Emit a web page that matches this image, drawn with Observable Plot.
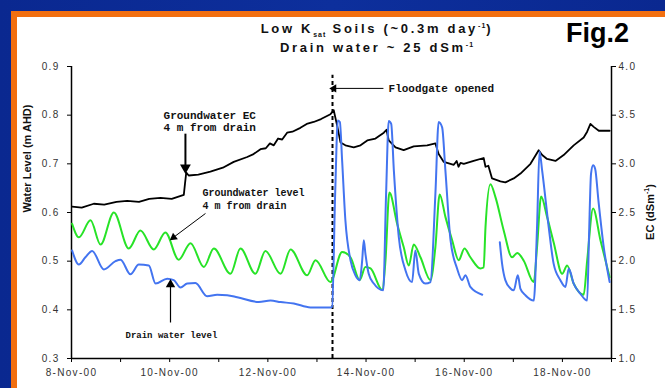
<!DOCTYPE html>
<html>
<head>
<meta charset="utf-8">
<script src="https://cdn.jsdelivr.net/npm/d3@7"></script>
<script src="https://cdn.jsdelivr.net/npm/@observablehq/plot@0.6"></script>
<style>
  html, body { margin: 0; padding: 0; }
  body {
    width: 665px; height: 388px; overflow: hidden; position: relative;
    background: linear-gradient(90deg, #0a2890 0%, #0d2f9c 50%, #0a2890 100%);
    font-family: "Liberation Sans", Arial, sans-serif;
  }
  #panel {
    position: absolute; left: 11px; top: 11px; right: 0; bottom: 0;
    background: #fff;
    border-left: 6px solid #f26f10; border-top: 6px solid #f26f10;
  }
  #chart { position: absolute; left: 0; top: 0; }
  .title {
    position: absolute; left: 127px; width: 500px; text-align: center;
    font-weight: bold; font-size: 13px; line-height: 13px; letter-spacing: 2.7px;
    color: #111; white-space: nowrap;
  }
  .title sub, .title sup { font-size: 7px; letter-spacing: 1px; line-height: 0; }
  #fig { position: absolute; left: 566px; top: 20px; font-weight: bold; font-size: 27px; line-height: 27px; color: #000; }
  #ecLabel {
    position: absolute; left: 650px; top: 212px; transform: translate(-50%, -50%) rotate(-90deg);
    font-weight: bold; font-size: 11px; white-space: nowrap; color: #111;
  }
  #ecLabel sup { font-size: 7px; line-height: 0; }
</style>
</head>
<body>
<div id="panel"></div>
<div id="chart"></div>
<div class="title" style="top:22px">Low K<sub>sat</sub> Soils (~0.3m day<sup>-1</sup>)</div>
<div class="title" style="top:41px">Drain water ~ 25 dSm<sup>-1</sup></div>
<div id="fig">Fig.2</div>
<div id="ecLabel">EC (dSm<sup>-1</sup>)</div>
<script>
// Hours since 8-Nov-00 00:00 and readings for each logger.

// Groundwater level 4 m from drain (m AHD)
const gwHours = [0.3, 3.6, 9.3, 14.2, 20.7, 28.0, 33.7, 40.2, 45.9, 52.4, 58.2, 64.7, 69.6, 77.7, 82.6, 89.9, 94.8, 102.2, 107.1, 115.2, 119.3, 126.6,
  132.3, 136.4, 140.9, 143.7, 146.2, 151.9, 153.5, 155.4, 159.2, 162.4, 164.9, 167.3, 170.6, 175.5, 177.9, 180.0, 182.8, 186.1, 189.3, 192.1, 195.0, 199.9, 201.5, 202.4, 204.8, 207.3, 211.3, 215.4, 217.9, 221.1, 226.0, 227.6, 229.6, 232.5, 235.7, 239.9, 242.3, 245.5, 250.4, 252.1, 255.0, 258.6, 263.1];
const gwLevel = [0.577, 0.549, 0.584, 0.534, 0.600, 0.526, 0.563, 0.524, 0.559, 0.503, 0.537, 0.488, 0.526, 0.474, 0.526, 0.474, 0.521, 0.474, 0.524, 0.471, 0.502, 0.457,
  0.519, 0.508, 0.461, 0.488, 0.485, 0.441, 0.501, 0.641, 0.577, 0.529, 0.491, 0.534, 0.508, 0.461, 0.529, 0.637, 0.591, 0.543, 0.502, 0.526, 0.508, 0.485, 0.487, 0.570, 0.658, 0.631, 0.563, 0.508, 0.517, 0.501, 0.457, 0.529, 0.633, 0.591, 0.539, 0.474, 0.491, 0.454, 0.431, 0.501, 0.608, 0.543, 0.467];

// Drain water level (m AHD); null marks a gap in the record
const drainHours = [0.3, 3.6, 6.8, 10.1, 15.8, 21.5, 24.0, 28.8, 32.9, 37.8, 41.1, 46.8, 50.0, 53.3, 56.6, 60.6, 66.3, 71.2, 76.1, 81.0, 91.6, 97.3, 102.2, 108.7, 116.8, 126.6,
  127.4, 128.9, 130.2, 131.2, 132.3, 133.9, 136.4, 138.8, 140.9, 142.1, 142.9, 143.7, 145.3, 147.8, 152.4, 153.8, 155.1, 156.3, 157.6, 160.0, 163.3, 166.5, 168.1, 169.8, 173.0, 175.5, 177.9, 179.5, 181.2, 182.8, 185.3, 188.5, 191.0, 192.6, 195.0, 200.8,
  205.0,
  209.4, 210.5, 212.1, 214.6, 216.2, 218.2, 219.5, 221.9, 226.0, 227.6, 228.8, 230.1, 233.3, 235.7, 239.0, 241.5, 243.1, 245.5, 248.8, 252.1, 253.0, 254.0, 255.0, 256.0, 257.6, 260.2, 263.1];
const drainLevel = [0.522, 0.493, 0.508, 0.521, 0.483, 0.500, 0.503, 0.473, 0.493, 0.491, 0.454, 0.464, 0.461, 0.446, 0.454, 0.455, 0.428, 0.431, 0.430, 0.426, 0.416, 0.419, 0.416, 0.413, 0.405, 0.405,
  0.406, 0.638, 0.789, 0.786, 0.707, 0.584, 0.502, 0.471, 0.461, 0.501, 0.543, 0.515, 0.474, 0.454, 0.440, 0.638, 0.788, 0.782, 0.686, 0.550, 0.481, 0.457, 0.522, 0.474, 0.454, 0.457, 0.638, 0.786, 0.775, 0.686, 0.543, 0.485, 0.461, 0.471, 0.447, 0.431,
  null,
  0.539, 0.495, 0.461, 0.444, 0.440, 0.471, 0.443, 0.430, 0.419, 0.570, 0.726, 0.686, 0.570, 0.495, 0.461, 0.447, 0.485, 0.454, 0.433, 0.419, 0.550, 0.680, 0.697, 0.690, 0.625, 0.529, 0.457];

// Groundwater EC 4 m from drain (dS/m)
const ecHours = [0.3, 5, 10.9, 16, 22, 27.2, 33, 38, 43.5, 49, 54.9, 55.5, 56.1, 57.3, 62, 67.9, 74, 79.3, 85.9, 89, 92.4, 95, 97, 98.9, 101, 103, 105.4, 108, 111.9, 115, 118.4, 122, 126.6, 128.2,
  129.9, 131.5, 133.9, 138.0, 141.3, 144.6, 148.6, 152.7, 154.0, 155.1, 158.4, 162.4, 167.3, 173.9, 177.9, 179.5, 182.0, 186.9, 188.3, 189.2, 190.2, 191.8, 196.6, 201.5, 202.4, 203.8, 205.6, 209.7, 212.1, 216.2, 219.5, 224.4, 228.4, 230.1, 232.5, 236.6, 240.6, 245.5, 250.4, 252.1, 253.7, 255.3, 257.8, 263.1];
const ecValue = [2.56, 2.55, 2.59, 2.58, 2.61, 2.62, 2.61, 2.64, 2.65, 2.64, 2.68, 2.80, 2.91, 2.88, 2.89, 2.92, 2.96, 3.02, 3.07, 3.10, 3.15, 3.16, 3.21, 3.19, 3.26, 3.25, 3.32, 3.33, 3.37, 3.41, 3.43, 3.46, 3.51, 3.55,
  3.39, 3.22, 3.19, 3.17, 3.19, 3.24, 3.26, 3.32, 3.35, 3.24, 3.17, 3.14, 3.18, 3.19, 3.21, 3.10, 3.02, 2.99, 3.03, 2.97, 3.01, 3.00, 3.03, 3.06, 2.97, 2.98, 2.85, 2.82, 2.81, 2.85, 2.90, 3.00, 3.14, 3.09, 3.05, 3.03, 3.09, 3.19, 3.27, 3.33, 3.41, 3.38, 3.34, 3.34];

// Axis ticks
const levelTicks = [0.3, 0.4, 0.5, 0.6, 0.7, 0.8, 0.9];
const ecTicks = [1.0, 1.5, 2.0, 2.5, 3.0, 3.5, 4.0];
const xTickLabels = ["8-Nov-00", "10-Nov-00", "12-Nov-00", "14-Nov-00", "16-Nov-00", "18-Nov-00"];
const floodgateHour = 127.6;

const start = Date.UTC(2000, 10, 8);
const at = (h) => new Date(start + h * 36e5);

// EC shares the plot with water level: 1.0–4.0 dS/m spans 0.3–0.9 m
const ecToLevel = (ec) => 0.3 + (ec - 1) * 0.2;
const levelToEc = (v) => (v - 0.3) / 0.2 + 1;

const gw = d3.zip(gwHours, gwLevel).map(([h, v]) => ({t: at(h), v}));
const drain = d3.zip(drainHours, drainLevel).map(([h, v]) => ({t: at(h), v: v == null ? NaN : v}));
const ec = d3.zip(ecHours, ecValue).map(([h, v]) => ({t: at(h), v: ecToLevel(v)}));

const dayTicks = d3.range(0, 12).map((d) => at(d * 24));
const dayLabel = (d) => {
  const i = Math.round((d - start) / 864e5);
  return i % 2 ? "" : xTickLabels[i / 2];
};

// Annotation labels and their pointers
const notes = [
  {h: 45, v: 0.799, text: "Groundwater EC", size: 11},
  {h: 45, v: 0.775, text: "4 m from drain", size: 11},
  {h: 64, v: 0.641, text: "Groundwater level", size: 10},
  {h: 64, v: 0.614, text: "4 m from drain", size: 10},
  {h: 26.4, v: 0.349, text: "Drain water level", size: 9},
  {h: 155, v: 0.855, text: "Floodgate opened", size: 11}
];
const pointers = [
  {h1: 55.7, v1: 0.762, h2: 55.7, v2: 0.692, w: 2, rot: 180, r: 4},
  {h1: 65.5, v1: 0.598, h2: 49.9, v2: 0.549, w: 1, rot: 233, r: 3},
  {h1: 48.4, v1: 0.374, h2: 48.4, v2: 0.452, w: 1.2, rot: 0, r: 3.5},
  {h1: 152.5, v1: 0.855, h2: 128.3, v2: 0.855, w: 1, rot: 270, r: 3}
];

const mono = "'Liberation Mono', 'Courier New', monospace";

const chart = Plot.plot({
  width: 665,
  height: 388,
  marginLeft: 71,
  marginRight: 54,
  marginTop: 66,
  marginBottom: 30,
  style: {background: "transparent", fontFamily: "'Liberation Sans', Arial, sans-serif", fontSize: "10px", overflow: "visible"},
  x: {type: "utc", domain: [at(0), at(264)]},
  y: {domain: [0.3, 0.9]},
  r: {type: "identity"},
  marks: [
    Plot.axisX({ticks: dayTicks, tickFormat: dayLabel, tickSize: 4, tickPadding: 6, label: null, stroke: "#000", fill: "#333"}),
    Plot.axisY({anchor: "left", ticks: levelTicks, tickFormat: d3.format(".1f"), tickSize: 4, tickPadding: 8, label: null, stroke: "#000", fill: "#333"}),
    Plot.axisY({anchor: "right", ticks: ecTicks.map(ecToLevel), tickFormat: (v) => levelToEc(v).toFixed(1), tickSize: 4, tickPadding: 3, label: null, stroke: "#000", fill: "#333"}),
    Plot.ruleX([at(0), at(264)], {stroke: "#000", strokeWidth: 1.5}),
    Plot.ruleY([0.3], {stroke: "#000", strokeWidth: 1.5}),
    Plot.text(["Water Level (m AHD)"], {frameAnchor: "left", dx: -44, rotate: -90, fontWeight: "bold", fontSize: 11, fill: "#111"}),
    Plot.ruleX([at(floodgateHour)], {y1: 0.3, y2: 0.882, stroke: "#000", strokeWidth: 2, strokeDasharray: "4,3"}),
    Plot.line(ec, {x: "t", y: "v", stroke: "#000", strokeWidth: 1.8}),
    Plot.line(gw, {x: "t", y: "v", stroke: "#27e327", strokeWidth: 2, curve: "monotone-x"}),
    Plot.line(drain, {x: "t", y: "v", stroke: "#4374f0", strokeWidth: 2, curve: "monotone-x"}),
    Plot.link(pointers, {x1: (d) => at(d.h1), y1: "v1", x2: (d) => at(d.h2), y2: "v2", stroke: "#000", strokeWidth: "w"}),
    Plot.dot(pointers, {x: (d) => at(d.h2), y: "v2", symbol: "triangle", fill: "#000", stroke: null, r: "r", rotate: "rot"}),
    Plot.text(notes, {x: (d) => at(d.h), y: "v", text: "text", textAnchor: "start", fontSize: "size", fontWeight: "bold", fontFamily: mono, fill: "#111"})
  ]
});

document.getElementById("chart").appendChild(chart);
d3.select(chart).selectAll('g[aria-label$="tick label"]').style("letter-spacing", "1.3px");
</script>
</body>
</html>
